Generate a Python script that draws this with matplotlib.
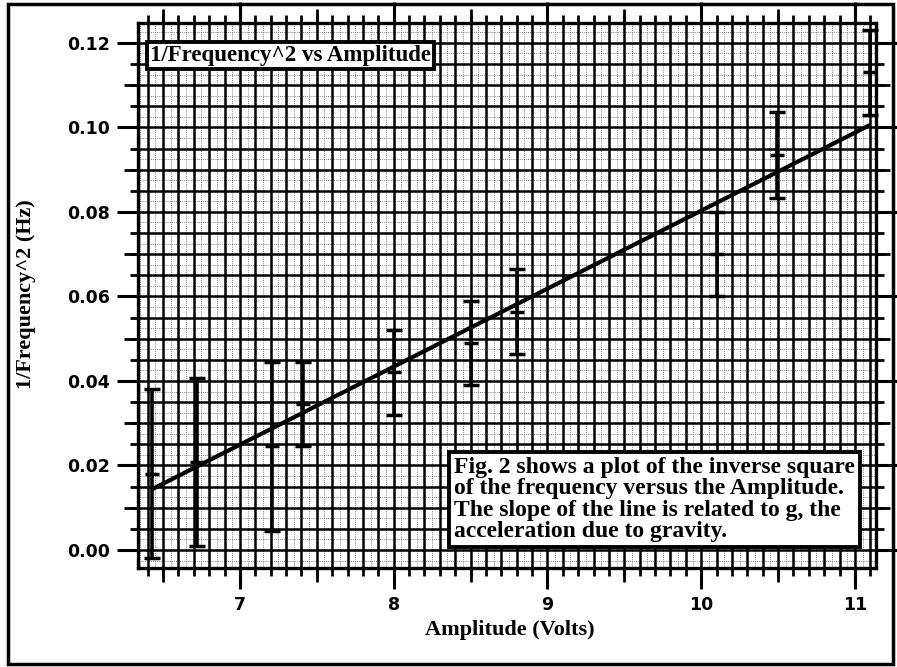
import matplotlib
matplotlib.use("Agg")
import matplotlib.pyplot as plt
from matplotlib.ticker import MultipleLocator, FuncFormatter
from matplotlib.patches import Rectangle

# ---- data ----
amplitude = [6.43, 6.72, 7.21, 7.41, 8.00, 8.50, 8.80, 10.10, 10.49, 11.10]
inv_freq_sq = [0.0180, 0.0208, 0.0245, 0.0345, 0.0420, 0.0490, 0.0564, 0.0700, 0.0935, 0.1130]
errors = [0.0200, 0.0198, 0.0200, 0.0100, 0.0100, 0.0100, 0.0100, 0.0100, 0.0101, 0.0100]
fit_x = [6.43, 11.10]
fit_y = [0.0144, 0.1006]

title_text = "1/Frequency^2 vs Amplitude"
note_text = ("Fig. 2 shows a plot of the inverse square\n"
             "of the frequency versus the Amplitude.\n"
             "The slope of the line is related to g, the\n"
             "acceleration due to gravity.")
x_label = "Amplitude (Volts)"
y_label = "1/Frequency^2 (Hz)"

W, H = 897, 667
fig = plt.figure(figsize=(W / 100, H / 100), dpi=100)

L, R, T, B = 138, 876, 23, 568
pos = [L / W, (H - B) / H, (R - L) / W, (B - T) / H]
xlim = (6.337, 11.137)
ylim = (-0.00426, 0.1247)

serif = ["Liberation Serif", "DejaVu Serif"]
sans = ["DejaVu Sans"]

# background axes: dotted fine grid + medium ticks
gax = fig.add_axes(pos)
gax.set_xlim(*xlim)
gax.set_ylim(*ylim)
gax.xaxis.set_major_locator(MultipleLocator(0.5))
gax.xaxis.set_minor_locator(MultipleLocator(0.05))
gax.yaxis.set_major_locator(MultipleLocator(0.01))
gax.yaxis.set_minor_locator(MultipleLocator(0.0025))
gax.grid(which="minor", color="0.35", linestyle=(0, (1, 1.5)), linewidth=0.6)
gax.tick_params(which="major", direction="out", length=10, width=2,
                top=True, right=True, labelbottom=False, labelleft=False)
gax.tick_params(which="minor", length=0)
for s in gax.spines.values():
    s.set_visible(False)

# main axes
ax = fig.add_axes(pos)
ax.set_facecolor("none")
ax.set_xlim(*xlim)
ax.set_ylim(*ylim)
ax.xaxis.set_major_locator(MultipleLocator(1))
ax.xaxis.set_minor_locator(MultipleLocator(0.1))
ax.yaxis.set_major_locator(MultipleLocator(0.02))
ax.yaxis.set_minor_locator(MultipleLocator(0.005))
ax.yaxis.set_major_formatter(FuncFormatter(lambda v, p: f"{v:.2f}"))
ax.xaxis.set_major_formatter(FuncFormatter(lambda v, p: f"{v:.0f}"))
ax.grid(which="both", color="black", linestyle="-", linewidth=1.8)
ax.set_axisbelow(True)
ax.tick_params(which="major", direction="out", length=15, width=2.2,
               top=True, right=True, pad=5)
ax.tick_params(which="minor", direction="out", length=6, width=2,
               top=True, right=True)
for s in ax.spines.values():
    s.set_linewidth(2.4)
for lab in ax.get_xticklabels() + ax.get_yticklabels():
    lab.set_fontfamily(sans)
    lab.set_fontweight("bold")
    lab.set_fontsize(12.5)

# fit line
ax.plot(fit_x, fit_y, color="black", linewidth=3, solid_capstyle="butt", zorder=3)

# error bars
ax.errorbar(amplitude, inv_freq_sq, yerr=errors, fmt="_", color="black",
            markersize=10, markeredgewidth=2.5, elinewidth=2.6, capsize=6,
            capthick=3, zorder=4, clip_on=False)

# text boxes
ax.text(150 / W, (H - 45) / H, title_text, transform=fig.transFigure,
        ha="left", va="top", fontsize=16.5, fontweight="bold", family=serif,
        bbox=dict(boxstyle="square,pad=0.14", facecolor="white",
                  edgecolor="black", linewidth=2.8), zorder=6)
ax.text(454 / W, (H - 457) / H, note_text, transform=fig.transFigure,
        ha="left", va="top", fontsize=17, fontweight="bold", family=serif,
        linespacing=1.03,
        bbox=dict(boxstyle="square,pad=0.2", facecolor="white",
                  edgecolor="black", linewidth=2.8), zorder=6)

# axis labels
fig.text(26 / W, (H - 294) / H, y_label, rotation=90, ha="center", va="center",
         fontsize=16, fontweight="bold", family=serif)
fig.text(510 / W, (H - 630) / H, x_label, ha="center", va="center",
         fontsize=16, fontweight="bold", family=serif)

# outer frame
fig.patches.append(Rectangle((8 / W, 3 / H), (893 - 8) / W, (663 - 3) / H,
                             transform=fig.transFigure, fill=False,
                             edgecolor="black", linewidth=2.5))

fig.savefig("out.png", dpi=100)
